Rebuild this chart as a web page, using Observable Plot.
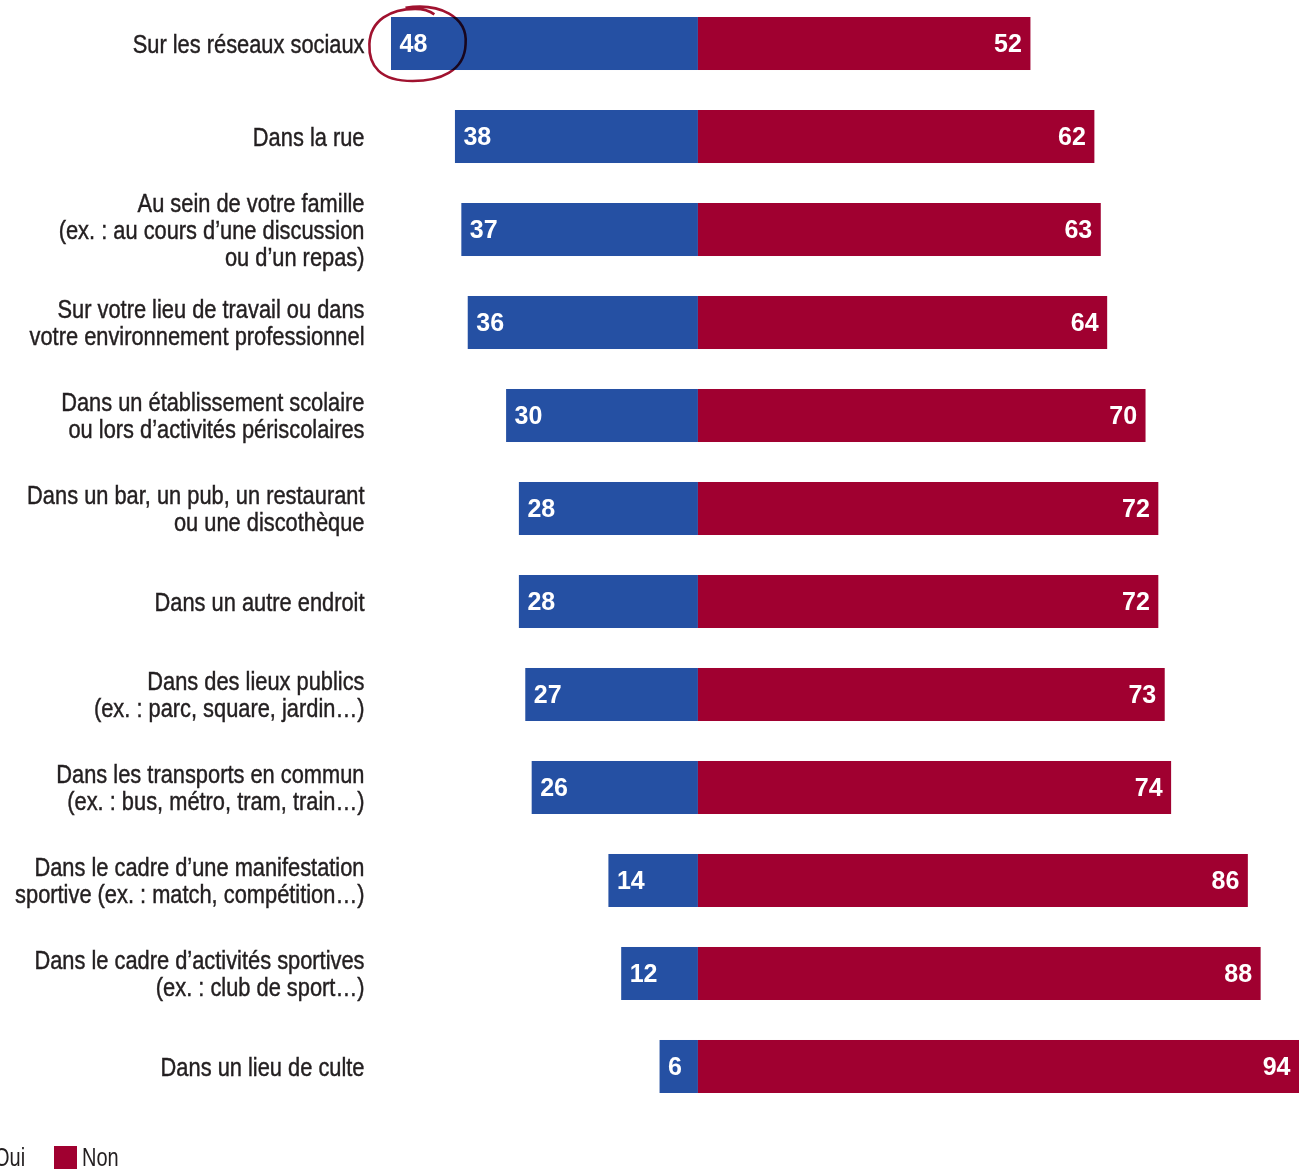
<!DOCTYPE html>
<html>
<head>
<meta charset="utf-8">
<script src="https://cdn.jsdelivr.net/npm/d3@7"></script>
<script src="https://cdn.jsdelivr.net/npm/@observablehq/plot@0.6"></script>
<style>
  html, body { margin: 0; padding: 0; background: #fff; overflow: hidden; }
  #chart { position: relative; width: 1306px; height: 1169px; overflow: hidden; }
  .legend { position: absolute; top: 1146px; left: 0; display: flex; align-items: center;
    font-family: "Liberation Sans", "DejaVu Sans", sans-serif; font-size: 25px; line-height: 23px; color: #231f20; white-space: nowrap; }
  .legend .sw { width: 23px; height: 23px; margin-right: 5px; flex: none; }
  .legend .item { display: flex; align-items: center; margin-right: 29px; }
  .legend span { display: inline-block; transform-origin: 0 50%; }
</style>
</head>
<body>
<div id="chart"></div>
<script>
const categories = [
  "Sur les réseaux sociaux",
  "Dans la rue",
  "Au sein de votre famille\n(ex. : au cours d’une discussion\nou d’un repas)",
  "Sur votre lieu de travail ou dans\nvotre environnement professionnel",
  "Dans un établissement scolaire\nou lors d’activités périscolaires",
  "Dans un bar, un pub, un restaurant\nou une discothèque",
  "Dans un autre endroit",
  "Dans des lieux publics\n(ex. : parc, square, jardin…)",
  "Dans les transports en commun\n(ex. : bus, métro, tram, train…)",
  "Dans le cadre d’une manifestation\nsportive (ex. : match, compétition…)",
  "Dans le cadre d’activités sportives\n(ex. : club de sport…)",
  "Dans un lieu de culte"
];
const oui = [48, 38, 37, 36, 30, 28, 28, 27, 26, 14, 12, 6];
const non = [52, 62, 63, 64, 70, 72, 72, 73, 74, 86, 88, 94];
const seriesNames = ["Oui", "Non"];
const seriesColors = ["#2550a3", "#a00030"];
const highlighted = ["Sur les réseaux sociaux"];

const rows = categories.map((c, i) => ({category: c, oui: oui[i], non: non[i]}));
const circled = rows.filter(d => highlighted.includes(d.category));

const FONT = '"Liberation Sans", "DejaVu Sans", sans-serif';

const loopSymbol = {
  draw(ctx, size) {
    const r = Math.sqrt(size / Math.PI);
    const rx = r * 1.3, ry = r;
    ctx.moveTo(-rx * 0.25, -ry * 0.98);
    ctx.bezierCurveTo(rx * 0.45, -ry * 1.12, rx * 1.05, -ry * 0.75, rx * 1.0, 0);
    ctx.bezierCurveTo(rx * 0.98, ry * 0.75, rx * 0.45, ry * 1.0, -rx * 0.1, ry * 1.0);
    ctx.bezierCurveTo(-rx * 0.77, ry * 1.0, -rx * 1.02, ry * 0.6, -rx * 1.0, 0);
    ctx.bezierCurveTo(-rx * 0.98, -ry * 0.65, -rx * 0.55, -ry * 0.95, -rx * 0.05, -ry * 0.95);
    ctx.bezierCurveTo(rx * 0.2, -ry * 0.95, rx * 0.3, -ry * 0.85, rx * 0.35, -ry * 0.8);
  }
};

const plot = Plot.plot({
  width: 1306,
  height: 1093,
  marginTop: 17,
  marginBottom: 0,
  marginLeft: 391,
  marginRight: 7,
  style: {fontFamily: FONT, background: "#fff"},
  x: {domain: [-d3.max(oui), d3.max(non)], axis: null},
  y: {domain: categories, paddingInner: 0.43, paddingOuter: 0, round: false, label: null},
  marks: [
    Plot.axisY({
      tickSize: 0, tickPadding: 27, fontSize: 26, lineHeight: 1.04,
      fill: "#231f20", label: null
    }),
    Plot.barX(rows, {y: "category", x1: 0, x2: d => -d.oui, fill: seriesColors[0]}),
    Plot.barX(rows, {y: "category", x1: 0, x2: "non", fill: seriesColors[1]}),
    Plot.text(rows, {y: "category", x: d => -d.oui, text: d => String(d.oui), textAnchor: "start", dx: 8,
      fill: "#fff", fontSize: 25, fontWeight: "bold", ariaLabel: "value-oui"}),
    Plot.text(rows, {y: "category", x: "non", text: d => String(d.non), textAnchor: "end", dx: -9,
      fill: "#fff", fontSize: 25, fontWeight: "bold", ariaLabel: "value-non"}),
    Plot.dot(circled, {y: "category", x: d => -d.oui, dx: 26, r: 37, symbol: loopSymbol,
      stroke: "#a0122f", strokeWidth: 2.6, fill: "none", mixBlendMode: "multiply"})
  ]
});

// condense text horizontally around each text's anchor point (no narrow font installed)
function condense(sel, s, strokeColor) {
  d3.select(plot).selectAll(sel).each(function() {
    const t = this;
    const xa = t.getAttribute("x");
    const tx = xa && /^-?[\d.]+$/.test(xa.trim()) ? +xa : 0;
    const tr = t.getAttribute("transform") || "";
    t.setAttribute("transform", `${tr} translate(${tx},0) scale(${s},1) translate(${-tx},0)`);
    if (strokeColor) {
      t.setAttribute("stroke", strokeColor);
      t.setAttribute("stroke-width", "0.45");
    }
  });
}
condense('g[aria-label="y-axis tick label"] text', 0.84, "#231f20");
condense('g[aria-label="value-oui"] text, g[aria-label="value-non"] text', 0.87);

const chart = document.getElementById("chart");
chart.appendChild(plot);

const legend = document.createElement("div");
legend.className = "legend";
const swatches = [];
seriesNames.forEach((name, i) => {
  const item = document.createElement("div");
  item.className = "item";
  const sw = document.createElement("div");
  sw.className = "sw";
  sw.style.background = seriesColors[i];
  const lab = document.createElement("span");
  lab.textContent = name;
  item.appendChild(sw);
  item.appendChild(lab);
  legend.appendChild(item);
  swatches.push(sw);
});
chart.appendChild(legend);
const LS = 0.8;
legend.querySelectorAll("span").forEach(sp => {
  const w = sp.getBoundingClientRect().width;
  sp.style.transform = `scaleX(${LS})`;
  sp.style.marginRight = `${-w * (1 - LS)}px`;
});
const nonLeft = swatches[1].getBoundingClientRect().left - chart.getBoundingClientRect().left;
legend.style.left = `${54 - nonLeft}px`;
</script>
</body>
</html>
